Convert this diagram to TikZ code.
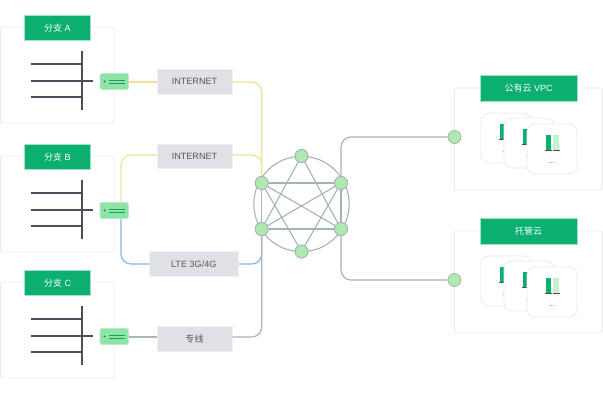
\documentclass[tikz,border=0pt]{standalone}
\usepackage{fontspec}
\setmainfont{Liberation Sans}
\newfontfamily\cjk{Noto Sans CJK SC}
\usetikzlibrary{calc}
\definecolor{hgreen}{HTML}{0BAF6F}
\definecolor{hedge}{HTML}{9FE3C4}
\definecolor{devfill}{HTML}{8FE3A6}
\definecolor{devedge}{HTML}{B6EDC4}
\definecolor{devline}{HTML}{0BA35F}
\definecolor{boxedge}{HTML}{E9EAEC}
\definecolor{labfill}{HTML}{DFE1E6}
\definecolor{labedge}{HTML}{EEF0F4}
\definecolor{labtext}{HTML}{555660}
\definecolor{dark}{HTML}{504C5C}
\definecolor{ylw}{HTML}{F3E09A}
\definecolor{blu}{HTML}{85B4EE}
\definecolor{gry}{HTML}{A9B4BC}
\definecolor{mesh}{HTML}{A5B2BA}
\definecolor{nfill}{HTML}{AFE9AE}
\definecolor{barlight}{HTML}{C4F2CC}
\tikzset{
  x=1pt,y=-1pt,
  panel/.style={draw=boxedge,line width=.8pt,fill=white,rounded corners=1.5pt},
  header/.style={draw=hedge,line width=.5pt,fill=hgreen,text=white,minimum width=66pt,minimum height=25.5pt,inner sep=0pt,font=\fontsize{9}{10}\selectfont},
  cheader/.style={header,minimum width=97pt,minimum height=26pt},
  tag/.style={draw=labedge,line width=.9pt,fill=labfill,text=labtext,minimum height=24.5pt,inner sep=0pt,font=\fontsize{9.1}{11}\selectfont},
  device/.style={draw=devedge,line width=.6pt,fill=devfill,rounded corners=1.5pt,minimum width=28.5pt,minimum height=16pt,inner sep=0pt},
  dot/.style={circle,draw=mesh,line width=.8pt,fill=nfill,minimum size=13pt,inner sep=0pt},
  card/.style={draw=boxedge,line width=.8pt,fill=white,rounded corners=8pt,minimum size=50pt,inner sep=0pt},
  wire/.style={line width=1.2pt,rounded corners=10pt},
  meshline/.style={draw=mesh,line width=1.1pt},
  tree/.style={draw=dark,line width=1.5pt},
}
\newcommand{\cloudcard}[3]{%
  \node[card] (#1) at (#2,#3) {};
  \fill[hgreen] ($(#1)+(-6,-14)$) rectangle ($(#1)+(-1,1)$);
  \fill[barlight] ($(#1)+(1,-14)$) rectangle ($(#1)+(7,1)$);
  \draw[dark,line width=.9pt] ($(#1)+(-7,1)$) -- ($(#1)+(0,1)$) ($(#1)+(1,1)$) -- ($(#1)+(8,1)$);
  \node[text=dark,inner sep=0pt,font=\fontsize{7.5}{7.5}\selectfont] at ($(#1)+(0,14)$) {...};
}
\newcommand{\branch}[3]{%
  \node[panel,minimum width=113.5pt,minimum height=96pt,inner sep=0pt] (box#1) at (57.25,75+#2) {};
  \node[header] (head#1) at (57.5,27.75+#2) {{\cjk 分支} #3};
  \coordinate (vt#1) at (82,51+#2);
  \coordinate (vb#1) at (82,110+#2);
  \coordinate (s#1) at (93,81+#2);
  \coordinate (l#1) at (31,64+#2);
  \coordinate (m#1) at (31,81+#2);
  \coordinate (r#1) at (31,97+#2);
  \draw[tree] (vt#1) -- (vb#1);
  \draw[tree] (l#1) -- (l#1-|vt#1);
  \draw[tree] (m#1) -- (s#1);
  \draw[tree] (r#1) -- (r#1-|vt#1);
  \node[device] (dev#1) at (114.25,81.5+#2) {};
  \fill[dark] (104.5,81.5+#2) circle (1pt);
  \draw[devline,line width=.9pt] (109,80+#2) -- (125,80+#2) (109,83+#2) -- (125,83+#2);
}
\begin{document}
\begin{tikzpicture}
\useasboundingbox (0,0) rectangle (603,403);

\node[dot] (n1) at (301.5,156) {};
\node[dot] (n2) at (261.7,183) {};
\node[dot] (n3) at (341,183) {};
\node[dot] (n4) at (261.7,229) {};
\node[dot] (n5) at (341,229) {};
\node[dot] (n6) at (301.5,251.5) {};

\coordinate (bt) at (121,202);
\coordinate (bb) at (121,218.5);
\coordinate (ybt) at (157,155);
\coordinate (ybl) at (149,264);
\coordinate (ycl) at (157,337);
\coordinate (yal) at (157,82);

\draw[wire,ylw] (bt) |- (ybt);
\draw[wire,blu] (bb) |- (ybl);

\branch{A}{0}{A}
\branch{B}{129}{B}
\branch{C}{255}{C}

\node[tag,minimum width=75pt] (inetA) at (194.5,81.75) {INTERNET};
\node[tag,minimum width=75pt] (inetB) at (194.5,156.25) {INTERNET};
\node[tag,minimum width=89.5pt] (lte) at (193.75,263.75) {LTE 3G/4G};
\node[tag,minimum width=75pt] (line) at (194.5,339) {\cjk 专线};

\draw[wire,ylw] (devA.east|-yal) -- (inetA.west|-yal);
\draw[wire,ylw] (inetA.east|-yal) -| (n2.north);
\draw[wire,ylw] (inetB.east|-ybt) -| (n2.north);
\draw[wire,blu] (lte.east|-ybl) -| (n4.south);
\draw[wire,gry] (devC.east|-ycl) -- (line.west|-ycl);
\draw[wire,gry] (line.east|-ycl) -| (n4.south);

\node[panel,minimum width=148pt,minimum height=102pt,inner sep=0pt] (vpc) at (528.5,139) {};
\node[cheader] (hvpc) at (528.5,88) {{\cjk 公有云} VPC};
\cloudcard{a1}{506}{138}
\cloudcard{a2}{529}{143}
\cloudcard{a3}{552}{149}

\node[panel,minimum width=148pt,minimum height=102pt,inner sep=0pt] (idc) at (528.5,282) {};
\node[cheader] (hidc) at (528.5,231) {\cjk 托管云};
\cloudcard{b1}{506}{281}
\cloudcard{b2}{529}{286}
\cloudcard{b3}{552}{292}

\node[dot] (c1) at (454.5,137) {};
\node[dot] (c2) at (454.5,280) {};
\draw[wire,gry] (n3.north) |- (c1.west);
\draw[wire,gry] (n5.south) |- (c2.west);

\draw[meshline] (301.5,204) circle (47.7);
\draw[meshline] (n1) -- (n4);
\draw[meshline] (n1) -- (n5);
\draw[meshline] (n2) -- (n3);
\draw[meshline] (n4) -- (n5);
\draw[meshline] (n2) -- (n6);
\draw[meshline] (n3) -- (n6);
\draw[meshline] (n2) -- (n5);
\draw[meshline] (n3) -- (n4);
\draw[meshline] (n2) -- (n4);
\draw[meshline] (n3) -- (n5);
\foreach \k in {1,...,6} {\node[dot] at (n\k) {};}
\end{tikzpicture}
\end{document}
